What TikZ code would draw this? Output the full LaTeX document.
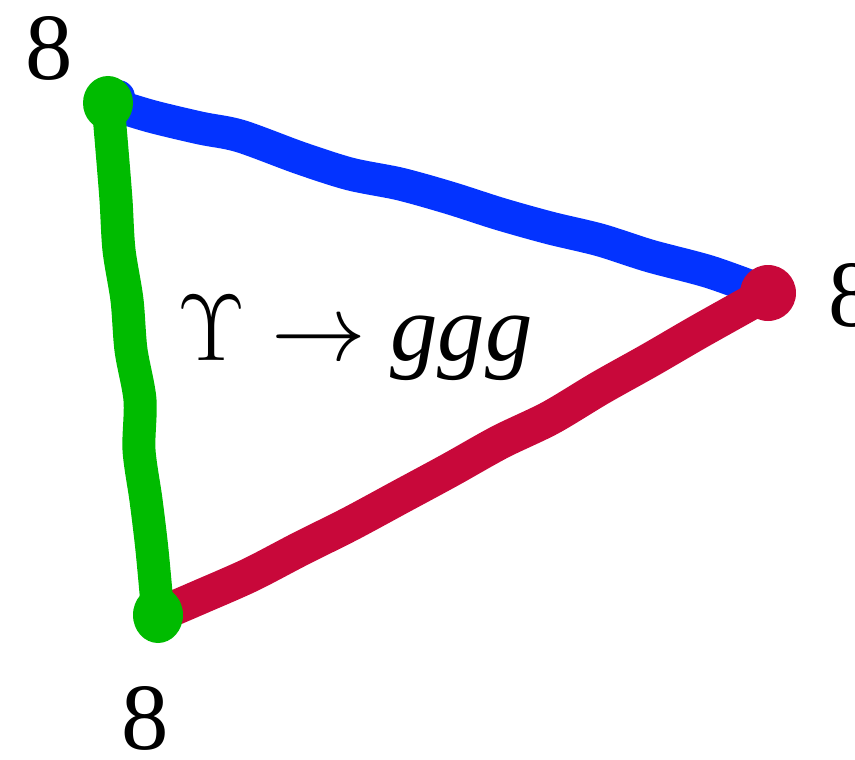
\documentclass[tikz,border=0pt]{standalone}
\usepackage{fontspec}
\setmainfont{Liberation Serif}
\usepackage{tikz}
\usetikzlibrary{positioning}
\definecolor{glblue}{RGB}{3,51,255}
\definecolor{glred}{RGB}{200,8,58}
\definecolor{glgreen}{RGB}{0,187,0}
\begin{document}
\begin{tikzpicture}[x=0.02cm,y=-0.02cm,
    every node/.style={font=\huge,scale=2.6},
    gluon/.style={line width=0.66cm,line cap=round,line join=round}]
  \useasboundingbox (0,0) rectangle (855,760);
  % corners of the triangle
  \coordinate (ctop)   at (108,103);
  \coordinate (cright) at (768,293);
  \coordinate (cbot)   at (158,615);
  % three gluons, green drawn last
  \draw[gluon,glblue] plot[smooth,tension=0.5] coordinates {(ctop) (150,116) (200,128) (240,136) (300,158) (350,174) (400,184) (450,198)
    (500,214) (550,228) (600,240) (650,256) (710,272) (cright)};
  \fill[glblue] (ctop) ++(10,-6) circle (17);
  \draw[gluon,glred,line width=0.7cm] plot[smooth,tension=0.5] coordinates {(cbot) (200,597) (250,575) (300,549) (350,524) (400,497)
    (450,470) (500,442) (550,418) (600,388) (650,360) (700,331) (cright)};
  \fill[glred] (cright) circle (28);
  \draw[gluon,glgreen] plot[smooth,tension=0.5] coordinates {(ctop) (112,150) (116,200) (119,250) (127,300) (131,350) (140,400)
    (139,450) (146,500) (152,550) (cbot)};
  \fill[glgreen] (ctop) ellipse (25 and 27);
  \fill[glgreen] (cbot) ellipse (25 and 28);
  % labels
  \node (ntop)   at (49,48)   {8};
  \node (nright) at (852,295) {8};
  \node (nbot)   at (145,718) {8};
  \node (decay)  at (355,338) {$\Upsilon\to$ \textit{ggg}};
\end{tikzpicture}
\end{document}
